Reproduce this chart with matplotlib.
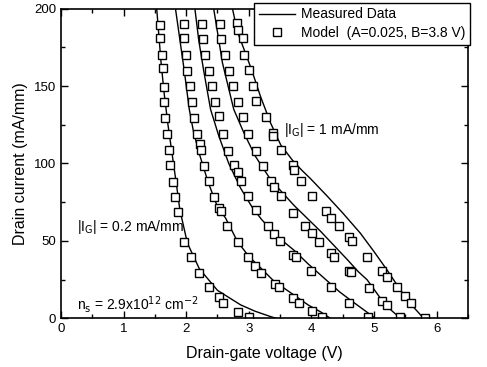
import matplotlib
matplotlib.use("Agg")
import matplotlib.pyplot as plt
from matplotlib.ticker import MultipleLocator

plt.rcParams['font.family'] = ['Liberation Sans', 'DejaVu Sans']

# Measured data (lines)
m1_x = [1.53, 1.56, 1.60, 1.65, 1.71, 1.78, 1.85, 1.90, 2.02, 2.21, 2.50, 2.87, 3.10, 3.35, 3.43]
m1_y = [200, 185, 165, 145, 125, 105, 85, 70, 48.5, 32, 18, 8.6, 4.5, 1.0, 0]
m2_x = [1.83, 1.90, 1.97, 2.05, 2.12, 2.22, 2.35, 2.50, 2.63, 2.82, 3.00, 3.19, 3.40, 3.67, 3.95, 4.15, 4.30]
m2_y = [200, 180, 160, 135, 120, 105, 88, 72, 64.7, 49.5, 40, 32.5, 24, 16.4, 8.5, 4, 0]
m3_x = [2.14, 2.20, 2.28, 2.39, 2.52, 2.68, 2.87, 3.05, 3.20, 3.45, 3.72, 3.95, 4.20, 4.45, 4.63, 4.85, 5.00]
m3_y = [200, 180, 160, 135, 118, 100, 84, 72, 64, 53, 44, 35, 26, 17, 11.5, 5, 0.5]
m4_x = [2.44, 2.50, 2.58, 2.67, 2.76, 2.92, 3.10, 3.35, 3.72, 4.15, 4.57, 4.75, 4.89, 5.10, 5.25, 5.42]
m4_y = [200, 185, 165, 150, 135, 120, 105, 89.5, 73, 56, 38, 30, 24.8, 13, 6, 0]
m5_x = [2.74, 2.82, 2.95, 3.05, 3.19, 3.35, 3.51, 3.70, 3.85, 3.99, 4.25, 4.50, 4.78, 5.00, 5.21, 5.42, 5.60, 5.79]
m5_y = [200, 185, 171, 160, 143, 126, 112, 102, 95.5, 90, 79, 68, 55, 43, 31, 18.3, 8.5, 0]

# Model (squares)
s1_x = [1.58, 1.59, 1.61, 1.63, 1.64, 1.64, 1.67, 1.69, 1.72, 1.74, 1.79, 1.82, 1.87, 1.96, 2.08, 2.21, 2.37, 2.52, 2.59, 2.83, 3.00]
s1_y = [189.8, 181.3, 170.3, 161.9, 149.6, 139.9, 129.5, 119.2, 108.9, 99.2, 88.2, 78.5, 68.8, 49.4, 39.8, 29.5, 20, 13.6, 10.1, 3.9, 1.0]
s2_x = [1.96, 1.97, 1.99, 2.02, 2.06, 2.10, 2.13, 2.18, 2.22, 2.23, 2.29, 2.37, 2.44, 2.52, 2.55, 2.66, 2.82, 2.98, 3.10, 3.20, 3.42, 3.48, 3.71, 3.80, 4.01, 4.17]
s2_y = [190, 181, 170, 160, 150, 139.7, 129.4, 119.2, 112.5, 108.9, 98.5, 88.4, 78.3, 71.2, 69, 59.3, 49.2, 39.8, 33.8, 29.5, 22.2, 20, 12.9, 10.1, 4.9, 1.0]
s3_x = [2.25, 2.27, 2.30, 2.37, 2.41, 2.46, 2.53, 2.59, 2.67, 2.76, 2.82, 2.87, 2.99, 3.11, 3.31, 3.40, 3.50, 3.70, 3.75, 4.00, 4.31, 4.60, 4.90]
s3_y = [190, 180.5, 170, 160, 150, 139.7, 130.4, 119.2, 108.4, 99.2, 94.2, 89, 79.1, 70, 59.3, 54.5, 49.6, 41, 39.5, 30.6, 20, 10.1, 1.0]
s4_x = [2.54, 2.56, 2.62, 2.68, 2.75, 2.82, 2.90, 2.99, 3.11, 3.22, 3.36, 3.41, 3.52, 3.71, 3.90, 4.01, 4.12, 4.31, 4.36, 4.60, 4.63, 4.92, 5.13, 5.20, 5.42]
s4_y = [190, 180.5, 170, 160, 150, 139.7, 130, 119.2, 107.8, 98.5, 88.4, 85.1, 78.7, 68.3, 59.3, 55, 49.5, 42, 39.8, 30.8, 29.8, 19.8, 10.8, 8.6, 0.6]
s5_x = [2.81, 2.82, 2.90, 2.93, 3.00, 3.07, 3.12, 3.27, 3.38, 3.39, 3.51, 3.70, 3.72, 3.84, 4.01, 4.23, 4.31, 4.44, 4.60, 4.64, 4.89, 5.13, 5.21, 5.37, 5.50, 5.59, 5.81]
s5_y = [190.8, 186.5, 181, 170, 160.6, 149.8, 140.1, 130, 119.7, 118, 108.9, 99.2, 96, 88.4, 79.1, 69, 64.7, 59.3, 52.4, 50, 39.8, 30.2, 26.9, 20, 14.4, 10.1, 0]

measured = [(m1_x, m1_y), (m2_x, m2_y), (m3_x, m3_y), (m4_x, m4_y), (m5_x, m5_y)]
model = [(s1_x, s1_y), (s2_x, s2_y), (s3_x, s3_y), (s4_x, s4_y), (s5_x, s5_y)]

fig = plt.figure(figsize=(4.87, 3.67), dpi=100)
ax = fig.add_axes([0.125, 0.133, 0.836, 0.843])

for i, (x, y) in enumerate(measured):
    ax.plot(x, y, color='black', lw=1.0, label='Measured Data' if i == 0 else None)
for i, (x, y) in enumerate(model):
    ax.plot(x, y, ls='none', marker='s', ms=5.5, mfc='white', mec='black', mew=1.0,
            label='Model  (A=0.025, B=3.8 V)' if i == 0 else None)

ax.set_xlim(0, 6.5)
ax.set_ylim(0, 200)
ax.xaxis.set_major_locator(MultipleLocator(1))
ax.xaxis.set_minor_locator(MultipleLocator(0.5))
ax.yaxis.set_major_locator(MultipleLocator(50))
ax.yaxis.set_minor_locator(MultipleLocator(25))
ax.tick_params(which='both', direction='in', top=True, right=True, labelsize=9.5, width=1.0)
ax.tick_params(which='major', length=5)
ax.tick_params(which='minor', length=3)
for s in ax.spines.values():
    s.set_linewidth(1.2)

ax.set_xlabel('Drain-gate voltage (V)', fontsize=11.5, labelpad=8)
ax.set_ylabel('Drain current (mA/mm)', fontsize=11.5, labelpad=4)

ax.text(3.57, 121.8, r'|I$_\mathrm{G}$| = 1 mA/mm', fontsize=10, va='center', ha='left')
ax.text(0.25, 59, r'|I$_\mathrm{G}$| = 0.2 mA/mm', fontsize=10, va='center', ha='left')
ax.text(0.25, 8.6, r'n$_\mathrm{s}$ = 2.9x10$^{12}$ cm$^{-2}$', fontsize=10, va='center', ha='left')

leg = ax.legend(loc='upper right', bbox_to_anchor=(1.005, 1.02), fontsize=10, frameon=True,
                fancybox=False, edgecolor='black', framealpha=1, borderpad=0.35,
                handlelength=2.6, handletextpad=0.4, labelspacing=0.3, borderaxespad=0)
leg.get_frame().set_linewidth(1.0)

fig.savefig('out.png', dpi=100)
